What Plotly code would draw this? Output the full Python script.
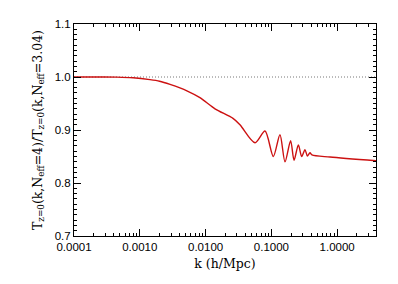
import plotly.graph_objects as go

# Data
k_vals = [1e-4, 2.48e-4, 4.5e-4, 7.9e-4, 1.43e-3, 2.0e-3, 2.88e-3, 5.2e-3, 8.2e-3, 0.0139, 0.0261,
          0.0333, 0.0564, 0.080, 0.107, 0.135, 0.161, 0.196, 0.221, 0.257, 0.289,
          0.324, 0.352, 0.386, 0.414, 0.778, 3.89]
ratio_vals = [1.0, 1.0, 0.9998, 0.9985, 0.995, 0.992, 0.986, 0.974, 0.961, 0.940, 0.922,
              0.910, 0.876, 0.898, 0.850, 0.891, 0.840, 0.880, 0.843, 0.872, 0.850,
              0.863, 0.851, 0.857, 0.853, 0.849, 0.842]

ref_k = [1e-4, 3.89]
ref_val = [1.0, 1.0]

x_tickvals = [1e-4, 1e-3, 1e-2, 1e-1, 1.0]
x_ticktext = ["0.0001", "0.0010", "0.0100", "0.1000", "1.0000"]
y_tickvals = [0.7, 0.8, 0.9, 1.0, 1.1]

fig = go.Figure()
fig.add_trace(go.Scatter(x=ref_k, y=ref_val, mode="lines",
                         line=dict(color="#777777", width=1, dash="1px,2px"),
                         showlegend=False, hoverinfo="skip"))
fig.add_trace(go.Scatter(x=k_vals, y=ratio_vals, mode="lines",
                         line=dict(color="#cc1111", width=1.4, shape="spline", smoothing=0.8),
                         showlegend=False))

tickfont = dict(family="Liberation Sans, Arial, sans-serif", size=11.5, color="black")
titlefont = dict(family="DejaVu Serif, Liberation Serif, serif", size=12.5, color="black")

fig.update_xaxes(type="log", range=[-4, 0.59],
                 tickvals=x_tickvals, ticktext=x_ticktext,
                 ticks="inside", ticklen=7, tickwidth=1, tickcolor="black",
                 minor=dict(ticks="inside", ticklen=3, tickcolor="black", dtick="D1", showgrid=False),
                 showline=True, linecolor="black", linewidth=1, mirror="allticks",
                 showgrid=False, zeroline=False, tickfont=tickfont,
                 title=dict(text="k (h/Mpc)", font=titlefont, standoff=7))
fig.update_yaxes(range=[0.7, 1.1], tickvals=y_tickvals, tickformat=".1f",
                 ticks="inside", ticklen=7, tickwidth=1, tickcolor="black",
                 minor=dict(ticks="inside", ticklen=3, tickcolor="black", dtick=0.01, showgrid=False),
                 showline=True, linecolor="black", linewidth=1, mirror="allticks",
                 showgrid=False, zeroline=False, tickfont=tickfont,
                 title=dict(text="T<sub>z=0</sub>(k,N<sub>eff</sub>=4)/T<sub>z=0</sub>(k,N<sub>eff</sub>=3.04)",
                            font=titlefont, standoff=9))

fig.update_layout(width=398, height=284, margin=dict(l=74, r=22, t=24, b=48),
                  paper_bgcolor="white", plot_bgcolor="white")

fig.write_html("out.html", config={"displayModeBar": False},
               post_script="document.body.style.margin='0';")
